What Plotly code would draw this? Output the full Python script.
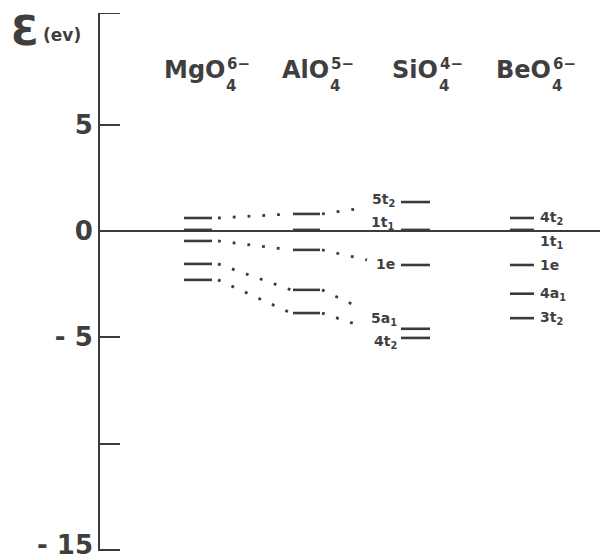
import plotly.graph_objects as go

# ---------------- data ----------------
species = ["MgO", "AlO", "SiO", "BeO"]
charges = ["6−", "5−", "4−", "6−"]
# energy levels (eV)
mgo_levels = [0.61, 0.05, -0.47, -1.55, -2.3]
alo_levels = [0.8, 0.05, -0.89, -2.77, -3.86]
sio_levels = [1.36, 0.05, -1.6, -4.6, -5.03]
beo_levels = [0.61, 0.05, -1.6, -2.95, -4.1]
sio_labels = ["5t<sub>2</sub>", "1t<sub>1</sub>", "1e", "5a<sub>1</sub>", "4t<sub>2</sub>"]
beo_labels = ["4t<sub>2</sub>", "1t<sub>1</sub>", "1e", "4a<sub>1</sub>", "3t<sub>2</sub>"]
connected = [0, 2, 3, 4]          # levels joined by dotted correlation lines
tick_vals = [-15, -10, -5, 0, 5]
tick_text = ["- 15", "", "- 5", "0", "5"]

# ---------------- layout helpers ----------------
# the page body has an 8px margin, so the figure is drawn 8px in from top/left
OFF = 8
Y_TOP, Y_BOT = 10.25, -15.05
PT = 13                    # page-pixel top of plot
PLOT_H = 538
PB = 560 - PT - PLOT_H
UPP = (Y_TOP - Y_BOT) / PLOT_H   # eV per pixel
X0, X1 = 100, 608


def ypx(py):
    return Y_TOP - (py - PT) * UPP


def xpaper(px):
    return (px - X0) / (X1 - X0)


LINE = "#3b3b3b"
TXT = "#3f3f3f"
FONT = "DejaVu Sans"
TICK_FONT = dict(family=FONT, size=26, color=TXT, weight="bold")

col_x = [(184, 212), (293, 320), (401, 430), (510, 534)]
all_levels = [mgo_levels, alo_levels, sio_levels, beo_levels]

fig = go.Figure()

# zero line
fig.add_trace(go.Scatter(x=[X0, X1], y=[0, 0], mode="lines",
                         line=dict(color=LINE, width=2), hoverinfo="skip"))

# level bars
for (x0, x1), levels in zip(col_x, all_levels):
    xs, ys = [], []
    for v in levels:
        xs += [x0, x1, None]
        ys += [v, v, None]
    fig.add_trace(go.Scatter(x=xs, y=ys, mode="lines",
                             line=dict(color=LINE, width=2.6), hoverinfo="skip"))

# dotted correlation lines
end_shift_px = {0: 6, 2: -5, 3: -20, 4: -13}
end_x = {0: 363, 2: 367, 3: 362, 4: 358}
for i in connected:
    xs = [218, 291, None, 322, end_x[i]]
    ys = [mgo_levels[i], alo_levels[i], None, alo_levels[i],
          sio_levels[i] - end_shift_px[i] * UPP]
    fig.add_trace(go.Scatter(x=xs, y=ys, mode="lines",
                             line=dict(color=LINE, width=2.8, dash="2.8px,12px"),
                             hoverinfo="skip"))

annotations = []
LAB_FONT = dict(family=FONT, size=14, color=TXT, weight="bold")

# SiO labels (left of bars)
sio_lab_dy = [-2, -7, -1, -10, 4]
sio_lab_x = [397, 396, 397, 399, 399]
for lab, v, dy, lx in zip(sio_labels, sio_levels, sio_lab_dy, sio_lab_x):
    annotations.append(dict(x=lx, y=v - dy * UPP, text=lab, showarrow=False,
                            xanchor="right", yanchor="middle", font=LAB_FONT))
# BeO labels (right of bars)
beo_lab_dy = [0, 12, 0, 0, 0]
for lab, v, dy in zip(beo_labels, beo_levels, beo_lab_dy):
    annotations.append(dict(x=538, y=v - dy * UPP, text=lab, showarrow=False,
                            xanchor="left", yanchor="middle", font=LAB_FONT))

# column headers
head_right = [227, 331, 440, 553]
for sp, ch, xr in zip(species, charges, head_right):
    annotations.append(dict(x=xr, y=ypx(70), text=sp, showarrow=False,
                            xanchor="right", yanchor="middle",
                            font=dict(family=FONT, size=24, color=TXT, weight="bold")))
    annotations.append(dict(x=xr - 3, y=ypx(86), text="4", showarrow=False,
                            xanchor="left", yanchor="middle",
                            font=dict(family=FONT, size=15, color=TXT, weight="bold")))
    annotations.append(dict(x=xr - 2, y=ypx(64), text=ch, showarrow=False,
                            xanchor="left", yanchor="middle",
                            font=dict(family=FONT, size=15, color=TXT, weight="bold")))

# axis title (placed in the left margin, so use paper x)
annotations.append(dict(x=xpaper(9), xref="paper", y=ypx(31), text="Ɛ",
                        showarrow=False, xanchor="left", yanchor="middle",
                        font=dict(family=FONT, size=40, color=TXT, weight="bold")))
annotations.append(dict(x=xpaper(41), xref="paper", y=ypx(35), text="(ev)",
                        showarrow=False, xanchor="left", yanchor="middle",
                        font=dict(family=FONT, size=17, color=TXT, weight="bold")))

# bottom tick label sits at the page edge: draw it slightly raised so it fits
axis_tick_text = list(tick_text)
axis_tick_text[0] = ""
annotations.append(dict(x=xpaper(94), xref="paper", y=tick_vals[0], yshift=5,
                        text=tick_text[0], showarrow=False, xanchor="right",
                        yanchor="middle", borderpad=0, font=TICK_FONT))

fig.update_layout(
    width=608 - OFF, height=560 - OFF,
    margin=dict(l=X0 - OFF, r=0, t=PT - OFF, b=PB, autoexpand=False),
    paper_bgcolor="white", plot_bgcolor="white",
    showlegend=False,
    annotations=annotations,
    shapes=[dict(type="line", xref="x", yref="y", x0=X0, x1=120,
                 y0=Y_TOP, y1=Y_TOP, line=dict(color=LINE, width=2))],
    xaxis=dict(range=[X0, X1], visible=False, fixedrange=True),
    yaxis=dict(range=[Y_BOT, Y_TOP], showgrid=False, zeroline=False,
               showline=True, linecolor=LINE, linewidth=2,
               ticks="inside", ticklen=20, tickwidth=2, tickcolor=LINE,
               tickvals=tick_vals, ticktext=axis_tick_text,
               ticklabeloverflow="allow",
               tickfont=TICK_FONT,
               fixedrange=True),
)

fig.write_html("out.html")
